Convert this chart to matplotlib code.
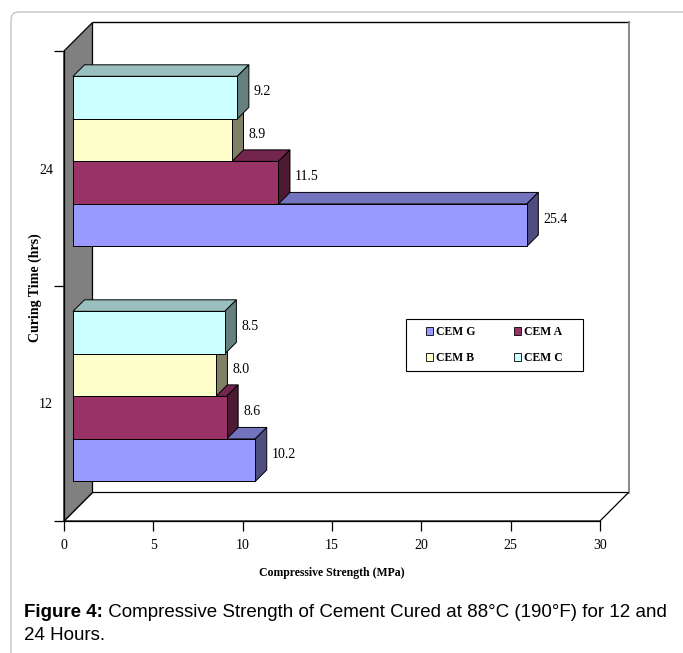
import matplotlib
matplotlib.use('Agg')
import matplotlib.pyplot as plt
from matplotlib.patches import Polygon, Rectangle, Patch, FancyBboxPatch
from matplotlib.transforms import IdentityTransform

# curing time categories and compressive strength (MPa) per cement
hours = ['12', '24']
series = ['CEM G', 'CEM A', 'CEM B', 'CEM C']
cem_g = [10.2, 25.4]
cem_a = [8.6, 11.5]
cem_b = [8.0, 8.9]
cem_c = [8.5, 9.2]
values = [cem_g, cem_a, cem_b, cem_c]
colors = ['#9999FF', '#993366', '#FFFFCC', '#CCFFFF']

W, H = 683, 653
serif = 'Liberation Serif'


def shade(c, k):
    r, g, b = matplotlib.colors.to_rgb(c)
    return (r * k, g * k, b * k)


fig = plt.figure(figsize=(W / 100, H / 100), dpi=100)
ax = fig.add_axes([64 / W, (H - 521) / H, 536 / W, 470 / H])
ax.set_xlim(0, 30)
ax.set_ylim(0, 2)
ax.patch.set_visible(False)

# pixel -> data scale for the fake 3d offsets
sx = 30 / 536
sy = 2 / 470
wx, wy = 28.5 * sx, 28.5 * sy      # wall depth
d0 = 9.0                           # bar front distance from axis plane (px)
bd = 11.5                          # bar depth (px)
bx, by = bd * sx, bd * sy
bar_h = 0.181
group_start = 0.13

# walls and floor
ax.add_patch(Rectangle((wx, wy), 30, 2, facecolor='white', edgecolor='none',
                       zorder=0.2, clip_on=False))
ax.plot([wx, 30 + wx], [2 + wy, 2 + wy], color='black', lw=1, zorder=0.3, clip_on=False)
ax.plot([30 + wx, 30 + wx], [wy, 2 + wy], color='#808080', lw=1.3, zorder=0.3, clip_on=False)
ax.add_patch(Polygon([(0, 0), (30, 0), (30 + wx, wy), (wx, wy)], closed=True,
                     facecolor='white', edgecolor='black', lw=0.9, zorder=0.4, clip_on=False))
ax.add_patch(Polygon([(0, 0), (0, 2), (wx, 2 + wy), (wx, wy)], closed=True,
                     facecolor='#808080', edgecolor='black', lw=0.9, zorder=0.5, clip_on=False))

# bars, drawn bottom to top so upper bars overlap the lower ones
z = 1
for ci in range(len(hours)):
    for si in range(len(series)):
        v = values[si][ci]
        x0 = d0 * sx
        y0 = ci + group_start + si * bar_h + d0 * sy
        col = colors[si]
        kw = dict(edgecolor='black', lw=0.7, clip_on=False, zorder=z)
        ax.add_patch(Polygon([(x0, y0 + bar_h), (x0 + v, y0 + bar_h),
                              (x0 + v + bx, y0 + bar_h + by), (x0 + bx, y0 + bar_h + by)],
                             closed=True, facecolor=shade(col, 0.75), **kw))
        ax.add_patch(Polygon([(x0 + v, y0), (x0 + v + bx, y0 + by),
                              (x0 + v + bx, y0 + bar_h + by), (x0 + v, y0 + bar_h)],
                             closed=True, facecolor=shade(col, 0.5), **kw))
        ax.add_patch(Rectangle((x0, y0), v, bar_h, facecolor=col, **kw))
        ax.text(x0 + v + bx + 5 * sx, y0 + bar_h / 2 + (bd / 2) * sy, f'{v:.1f}',
                ha='left', va='center', fontsize=10, family=serif, zorder=20)
        z += 1

# axes
for s in ['top', 'right']:
    ax.spines[s].set_visible(False)
for s in ['left', 'bottom']:
    ax.spines[s].set_linewidth(0.9)
    ax.spines[s].set_zorder(10)
ax.set_xticks(range(0, 31, 5))
ax.set_xticklabels([str(t) for t in range(0, 31, 5)], family=serif, fontsize=10)
ax.tick_params(axis='x', direction='out', length=7, width=0.9, pad=6)
ax.set_yticks([0, 1, 2])
ax.set_yticklabels([])
ax.tick_params(axis='y', which='major', direction='out', length=7, width=0.9)
ax.set_yticks([0.5, 1.5], minor=True)
ax.set_yticklabels(hours, minor=True, family=serif, fontsize=10)
ax.tick_params(axis='y', which='minor', length=0, pad=8)

fig.text(35 / W, 1 - 288 / H, 'Curing Time (hrs)', rotation=90, ha='center', va='center',
         family=serif, fontweight='bold', fontsize=10)
fig.text(332 / W, 1 - 573 / H, 'Compressive Strength (MPa)', ha='center', va='center',
         family=serif, fontweight='bold', fontsize=8.5)

# legend with a plain rectangular frame, filled row by row
fig.add_artist(Rectangle((406 / W, 1 - 371 / H), 177 / W, 52 / H, transform=fig.transFigure,
                         facecolor='white', edgecolor='black', lw=0.8, zorder=30))
order = [0, 2, 1, 3]
handles = [Patch(facecolor=colors[i], edgecolor='black', lw=0.6) for i in order]
leg = fig.legend(handles, [series[i] for i in order], ncol=2, loc='center',
                 bbox_to_anchor=(494.5 / W, 1 - 345 / H),
                 frameon=False, prop=dict(family=serif, weight='bold', size=8.5),
                 handlelength=0.6, handleheight=0.6, handletextpad=0.25,
                 columnspacing=3.3, labelspacing=1.2)
leg.set_zorder(31)

# page frame and caption
fig.add_artist(FancyBboxPatch((11, -30), 720, H - 12 + 30, boxstyle='round,pad=0,rounding_size=8',
                              transform=IdentityTransform(), facecolor='none',
                              edgecolor='#c4c4c4', lw=1))
cap_y = 1 - 617 / H
t1 = fig.text(24 / W, cap_y, 'Figure 4:', family='Liberation Sans', fontweight='bold',
              fontsize=13.5, va='baseline')
r = fig.canvas.get_renderer()
bb = t1.get_window_extent(r)
fig.text(bb.x1 / W, cap_y, ' Compressive Strength of Cement Cured at 88°C (190°F) for 12 and',
         family='Liberation Sans', fontsize=13.5, va='baseline')
fig.text(24 / W, 1 - 640 / H, '24 Hours.', family='Liberation Sans', fontsize=13.5, va='baseline')

fig.savefig('out.png', dpi=100)
